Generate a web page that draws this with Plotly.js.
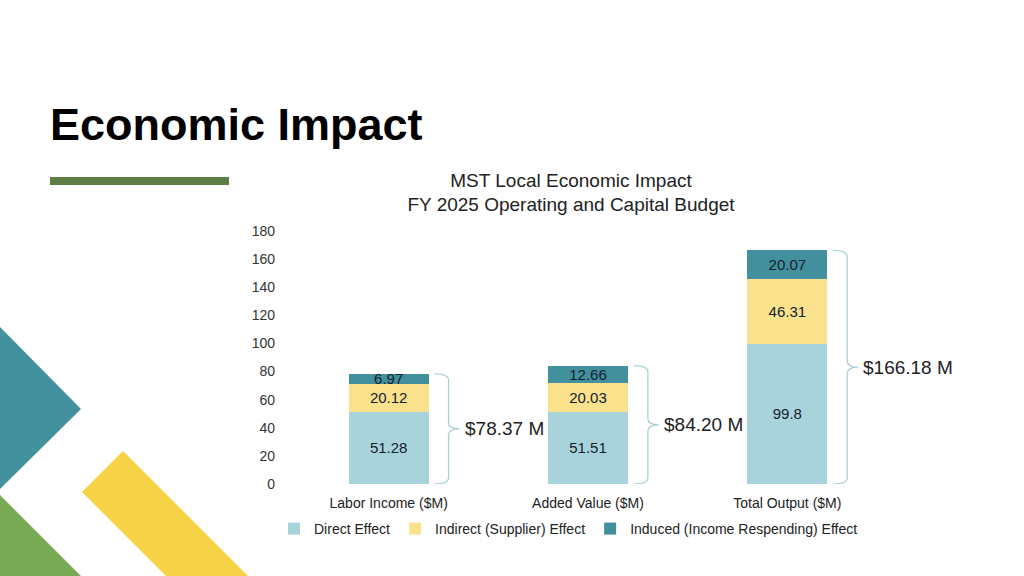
<!DOCTYPE html>
<html>
<head>
<meta charset="utf-8">
<script src="https://cdn.plot.ly/plotly-3.0.1.min.js"></script>
<style>
html,body{margin:0;padding:0;background:#fff;}
#chart{width:1024px;height:576px;}
</style>
</head>
<body>
<div id="chart"></div>
<script>
// ---- data ----
const categories = ["Labor Income ($M)", "Added Value ($M)", "Total Output ($M)"];
const directEffect = [51.28, 51.51, 99.8];
const indirectEffect = [20.12, 20.03, 46.31];
const inducedEffect = [6.97, 12.66, 20.07];
const seriesNames = ["Direct Effect", "Indirect (Supplier) Effect", "Induced (Income Respending) Effect"];
const yTicks = [0, 20, 40, 60, 80, 100, 120, 140, 160, 180];

// ---- layout geometry (pixels) ----
const L = 289, R = 887, T = 231, B = 484;
const W = R - L, H = B - T;
const px = p => (p - L) / W;          // pixel x -> paper x
const py = p => (B - p) / H;          // pixel y -> paper y
const catW = W / categories.length;   // pixels per category
const barHalf = catW * 0.4 / 2;

const colors = ["#A8D3DA", "#FAE18C", "#42909D"];
const seriesData = [directEffect, indirectEffect, inducedEffect];

const traces = seriesData.map((vals, i) => ({
  type: "bar",
  name: seriesNames[i],
  x: categories,
  y: vals,
  marker: { color: colors[i] },
  text: vals.map(v => String(v)),
  texttemplate: "%{text}",
  textposition: "inside",
  insidetextanchor: "middle",
  textangle: 0,
  constraintext: "none",
  textfont: { family: "Liberation Sans, Arial, sans-serif", size: 15, color: "#14212e" },
  hoverinfo: "skip"
}));

const totals = categories.map((c, i) => directEffect[i] + indirectEffect[i] + inducedEffect[i]);

const shapes = [];
const annotations = [];

// braces + total labels, built from totals
totals.forEach((tot, i) => {
  const barRight = L + catW * (i + 0.5) + barHalf;
  const xl = px(barRight + 6), xv = px(barRight + 20), xt = px(barRight + 31);
  const d = 4.5; // curve size in data units
  const mid = tot / 2;
  const path =
    `M${xl},${tot} Q${xv},${tot} ${xv},${tot - d} ` +
    `L${xv},${mid + d} Q${xv},${mid} ${xt},${mid} ` +
    `Q${xv},${mid} ${xv},${mid - d} ` +
    `L${xv},${d} Q${xv},0 ${xl},0`;
  shapes.push({ type: "path", xref: "paper", yref: "y", path: path,
    line: { color: "#a9cfd6", width: 1.3 }, layer: "above" });
  annotations.push({
    xref: "paper", yref: "y", x: px(barRight + 34), y: mid,
    xanchor: "left", yanchor: "middle", showarrow: false,
    text: "$" + tot.toFixed(2) + " M",
    font: { family: "Liberation Sans, Arial, sans-serif", size: 19, color: "#222" }
  });
});

// slide decorations
const poly = pts => "M" + pts.map(p => px(p[0]) + "," + py(p[1])).join(" L") + " Z";
shapes.push({ type: "path", xref: "paper", yref: "paper", layer: "below",
  path: poly([[0, 327], [81, 409], [0, 489]]), fillcolor: "#43909E", line: { width: 0 } });
shapes.push({ type: "path", xref: "paper", yref: "paper", layer: "below",
  path: poly([[0, 495], [82, 577], [0, 577]]), fillcolor: "#78A955", line: { width: 0 } });
shapes.push({ type: "path", xref: "paper", yref: "paper", layer: "below",
  path: poly([[123, 451], [82, 492], [167, 577], [249, 577]]), fillcolor: "#F7D247", line: { width: 0 } });
shapes.push({ type: "rect", xref: "paper", yref: "paper", layer: "below",
  x0: px(50), x1: px(229), y0: py(185), y1: py(177), fillcolor: "#5F7E45", line: { width: 0 } });

annotations.push({
  xref: "paper", yref: "paper", x: px(48), y: py(124), xanchor: "left", yanchor: "middle",
  showarrow: false, text: "<b>Economic Impact</b>",
  font: { family: "Liberation Sans, Arial, sans-serif", size: 45, color: "#000" }
});

const layout = {
  width: 1024, height: 576,
  margin: { l: L, r: 1024 - R, t: T, b: 576 - B, pad: 0 },
  paper_bgcolor: "#fff", plot_bgcolor: "#fff",
  barmode: "stack",
  bargap: 0.6,
  showlegend: true,
  uniformtext: { mode: "show", minsize: 15 },
  title: {
    text: "MST Local Economic Impact<br>FY 2025 Operating and Capital Budget",
    xref: "container", yref: "container",
    x: 571 / 1024, y: 1 - 186.5 / 576, xanchor: "center", yanchor: "middle",
    font: { family: "Liberation Sans, Arial, sans-serif", size: 19, color: "#222" }
  },
  xaxis: {
    type: "category",
    showgrid: false, zeroline: false, showline: false,
    ticks: "", ticklabelstandoff: 9,
    tickfont: { family: "Liberation Sans, Arial, sans-serif", size: 14, color: "#222" },
    fixedrange: true
  },
  yaxis: {
    range: [0, 180], tickvals: yTicks,
    showgrid: false, zeroline: false, showline: false,
    ticks: "", ticklabelstandoff: 13,
    tickfont: { family: "Liberation Sans, Arial, sans-serif", size: 14, color: "#333" },
    fixedrange: true
  },
  legend: {
    orientation: "h", x: px(274), y: py(529), xanchor: "left", yanchor: "middle",
    font: { family: "Liberation Sans, Arial, sans-serif", size: 14, color: "#222" },
    traceorder: "normal", itemclick: false, itemdoubleclick: false
  },
  shapes: shapes,
  annotations: annotations
};

Plotly.newPlot("chart", traces, layout, { staticPlot: true, displayModeBar: false });
</script>
</body>
</html>
